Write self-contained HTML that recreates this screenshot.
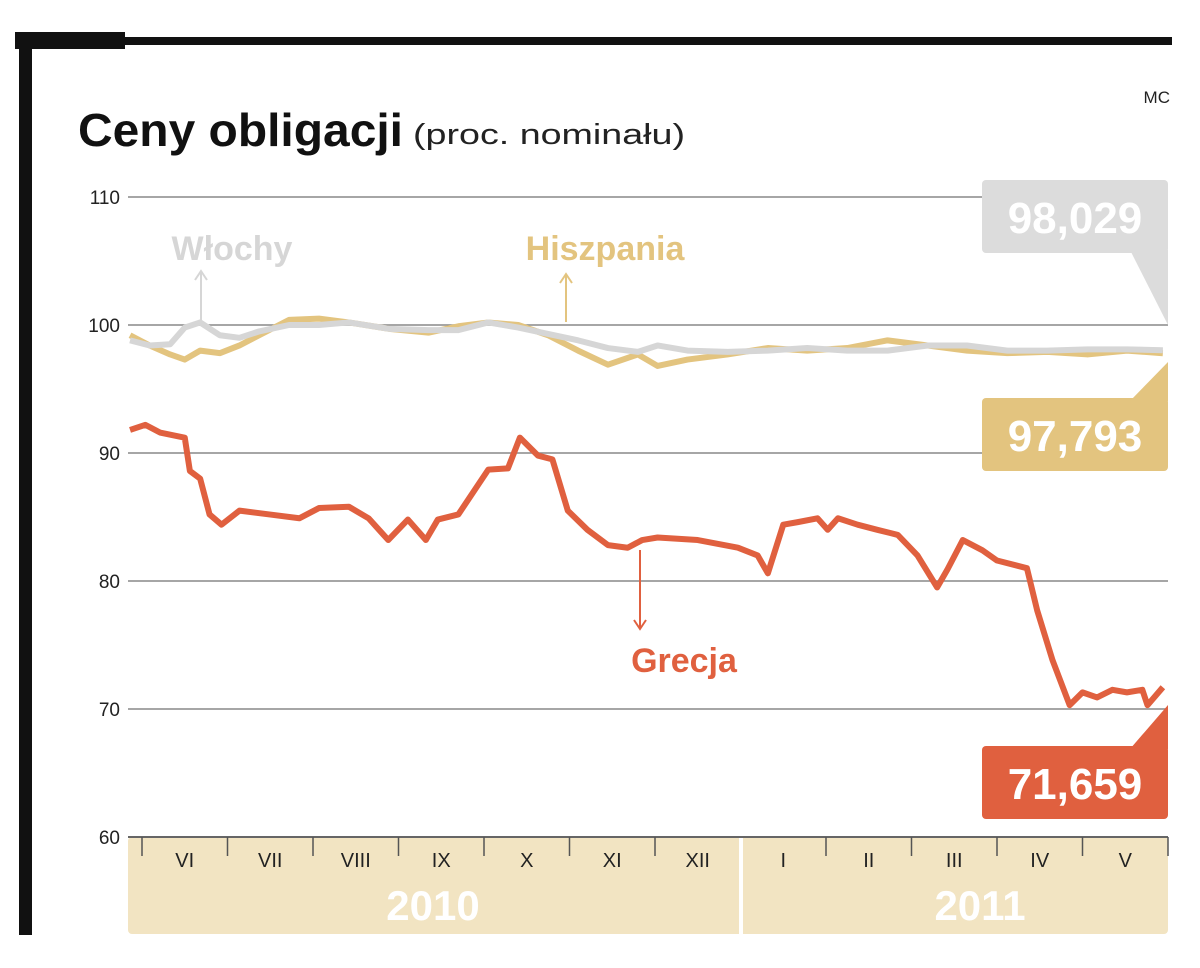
<!DOCTYPE html>
<html><head><meta charset="utf-8"><style>
body{margin:0;background:#fff;width:1200px;height:963px;overflow:hidden;font-family:"Liberation Sans",sans-serif}
</style></head><body>
<svg width="1200" height="963" viewBox="0 0 1200 963">
<rect x="15" y="32" width="110" height="17" fill="#111"/>
<rect x="120" y="37" width="1052" height="8" fill="#111"/>
<rect x="19" y="32" width="13" height="903" fill="#111"/>
<text x="1170" y="103" font-size="17" text-anchor="end" fill="#222">MC</text>
<text x="78" y="146" font-family="Liberation Sans Narrow, Liberation Sans, sans-serif" font-weight="bold" font-size="46" fill="#111" textLength="325" lengthAdjust="spacingAndGlyphs">Ceny obligacji</text>
<text x="413" y="144" font-size="29" fill="#222" textLength="272" lengthAdjust="spacingAndGlyphs">(proc. nominału)</text>
<g id="grid"></g>
<rect x="128" y="837" width="1040" height="97" rx="4" fill="#f2e4c2"/>
<rect x="739" y="837" width="4" height="97" fill="#fff"/>
<line x1="128" y1="837" x2="1168" y2="837" stroke="#666" stroke-width="2"/>
<g id="months"></g>
<text x="433" y="920" font-size="42" font-weight="bold" fill="#fff" text-anchor="middle">2010</text>
<text x="980" y="920" font-size="42" font-weight="bold" fill="#fff" text-anchor="middle">2011</text>
<g id="lines"></g>
<text x="232" y="260" font-size="34" font-weight="bold" fill="#d6d6d6" text-anchor="middle">Włochy</text>
<line x1="201" y1="320" x2="201" y2="272" stroke="#d6d6d6" stroke-width="2"/><path d="M195 280 L201 271 L207 280" fill="none" stroke="#d6d6d6" stroke-width="2"/>
<text x="605" y="260" font-size="34" font-weight="bold" fill="#e3c47f" text-anchor="middle">Hiszpania</text>
<line x1="566" y1="322" x2="566" y2="275" stroke="#e3c47f" stroke-width="2"/><path d="M560 283 L566 274 L572 283" fill="none" stroke="#e3c47f" stroke-width="2"/>
<text x="684" y="672" font-size="34" font-weight="bold" fill="#e0603f" text-anchor="middle">Grecja</text>
<line x1="640" y1="550" x2="640" y2="628" stroke="#e0603f" stroke-width="2"/><path d="M634 620 L640 629 L646 620" fill="none" stroke="#e0603f" stroke-width="2"/>
<g>
<rect x="982" y="180" width="186" height="73" rx="4" fill="#dcdcdc"/>
<path d="M1130 250 L1168 250 L1168 325 Z" fill="#dcdcdc"/>
<text x="1075" y="233" font-size="44" font-weight="bold" fill="#fff" text-anchor="middle">98,029</text></g>
<g>
<rect x="982" y="398" width="186" height="73" rx="4" fill="#e3c47f"/>
<path d="M1130 401 L1168 401 L1168 362 Z" fill="#e3c47f"/>
<text x="1075" y="451" font-size="44" font-weight="bold" fill="#fff" text-anchor="middle">97,793</text></g>
<g>
<rect x="982" y="746" width="186" height="73" rx="4" fill="#e0603f"/>
<path d="M1130 749 L1168 749 L1168 705 Z" fill="#e0603f"/>
<text x="1075" y="799" font-size="44" font-weight="bold" fill="#fff" text-anchor="middle">71,659</text></g>
</svg>
<script>
const yTicks=[110,100,90,80,70,60];
const months=["VI","VII","VIII","IX","X","XI","XII","I","II","III","IV","V"];
// x positions expressed in months since 1 June 2010 (time values)
const tGrecja=[-0.14,0.04,0.21,0.5,0.56,0.68,0.79,0.93,1.14,1.49,1.84,2.07,2.42,2.65,2.88,3.11,3.32,3.46,3.7,4.05,4.28,4.42,4.63,4.8,4.98,5.21,5.45,5.68,5.85,6.03,6.5,6.97,7.2,7.32,7.5,7.67,7.9,8.02,8.14,8.37,8.6,8.84,9.07,9.3,9.42,9.6,9.83,10.0,10.35,10.47,10.65,10.85,11.0,11.17,11.35,11.52,11.7,11.76,11.94];
const vGrecja=[91.8,92.2,91.6,91.2,88.6,88,85.2,84.4,85.5,85.2,84.9,85.7,85.8,84.9,83.2,84.8,83.2,84.8,85.2,88.7,88.8,91.2,89.8,89.5,85.5,84,82.8,82.6,83.2,83.4,83.2,82.6,82,80.6,84.4,84.6,84.9,84,84.9,84.4,84,83.6,82,79.5,80.9,83.2,82.4,81.6,81,77.7,73.8,70.3,71.3,70.9,71.5,71.3,71.5,70.3,71.7];
const tOther=[-0.14,0.09,0.33,0.5,0.68,0.91,1.14,1.37,1.72,2.07,2.42,2.89,3.35,3.7,4.05,4.4,4.75,5.1,5.45,5.8,6.03,6.38,6.85,7.32,7.78,8.25,8.72,9.19,9.65,10.12,10.59,11.06,11.52,11.94];
const vWlochy=[98.8,98.4,98.5,99.8,100.2,99.2,99,99.5,100,100,100.2,99.7,99.6,99.6,100.2,99.8,99.3,98.8,98.2,97.9,98.4,98,97.9,98,98.2,98,98,98.4,98.4,98,98,98.1,98.1,98.03];
const vHiszpania=[99.2,98.4,97.7,97.3,98,97.8,98.4,99.2,100.4,100.5,100.2,99.7,99.4,99.9,100.2,100,99.2,98,96.9,97.7,96.8,97.3,97.7,98.2,98,98.2,98.8,98.4,98,97.8,97.9,97.7,98,97.79];
const x0=142,mw=85.5;
const xs=t=>x0+t*mw, ys=v=>325-(v-100)*12.8;
const NS="http://www.w3.org/2000/svg";
const grid=document.getElementById('grid');
yTicks.forEach(v=>{
 if(v!==60){const l=document.createElementNS(NS,'line');
 l.setAttribute('x1',128);l.setAttribute('x2',1168);l.setAttribute('y1',ys(v));l.setAttribute('y2',ys(v));
 l.setAttribute('stroke','#888');l.setAttribute('stroke-width','1.5');
 
 
 grid.appendChild(l);}
 const t=document.createElementNS(NS,'text');
 t.setAttribute('x',120);t.setAttribute('y',ys(v)+7);t.setAttribute('font-size','19');t.setAttribute('text-anchor','end');t.setAttribute('fill','#222');
 t.textContent=v;
 
 
 grid.appendChild(t);
});
const mg=document.getElementById('months');
for(let i=0;i<=12;i++){
 if(i===7)continue;
 const l=document.createElementNS(NS,'line');
 l.setAttribute('x1',xs(i));l.setAttribute('x2',xs(i));l.setAttribute('y1',837);l.setAttribute('y2',856);
 l.setAttribute('stroke','#555');l.setAttribute('stroke-width','1.5');
 
 
 mg.appendChild(l);
}
months.forEach((m,i)=>{
 const t=document.createElementNS(NS,'text');
 t.setAttribute('x',xs(i+0.5));t.setAttribute('y',867);t.setAttribute('font-size','20');t.setAttribute('text-anchor','middle');t.setAttribute('fill','#222');
 t.textContent=m;
 
 
 mg.appendChild(t);
});
const lg=document.getElementById('lines');
function draw(ts,vs,col,w,name){
 const p=document.createElementNS(NS,'polyline');
 p.setAttribute('points',ts.map((t,i)=>xs(t)+','+ys(vs[i])).join(' '));
 p.setAttribute('fill','none');p.setAttribute('stroke',col);p.setAttribute('stroke-width',w);p.setAttribute('stroke-linejoin','round');
 
 
 lg.appendChild(p);
}
draw(tOther,vHiszpania,'#e3c47f',6,'hiszpania-line');
draw(tOther,vWlochy,'#d6d6d6',6,'wlochy-line');
draw(tGrecja,vGrecja,'#e0603f',6,'grecja-line');
</script>
</body></html>
